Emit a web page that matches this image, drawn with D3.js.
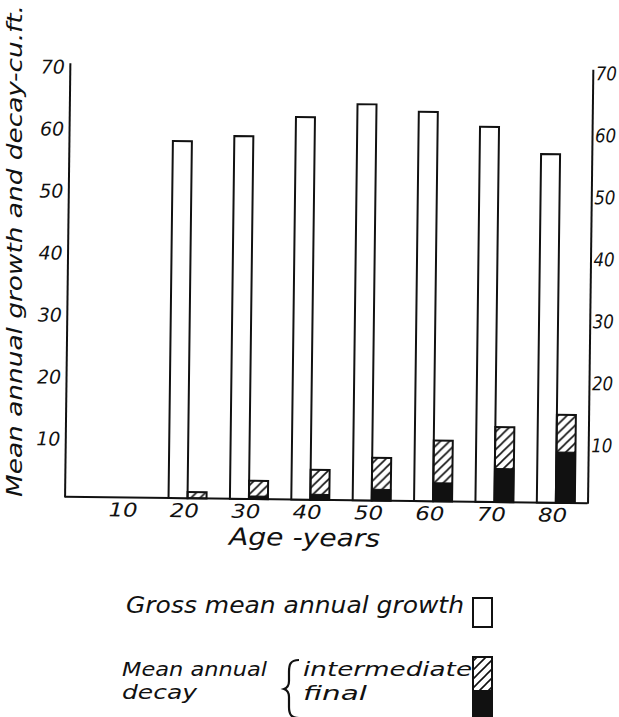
<!DOCTYPE html>
<html>
<head>
<meta charset="utf-8">
<script src="https://cdn.jsdelivr.net/npm/d3@7"></script>
<style>
  body { margin: 0; background: #fff; }
  text { font-family: "DejaVu Sans", sans-serif; font-style: italic; fill: #111; }
</style>
</head>
<body>
<div id="chart"></div>
<script>
// Data
const ages = [10, 20, 30, 40, 50, 60, 70, 80];
const growth = [null, 57.6, 58.5, 61.7, 63.9, 62.8, 60.5, 56.2];
const decayTotal = [null, 1.0, 2.95, 4.85, 6.9, 9.8, 12.1, 14.2];
const decayFinal = [null, 0, 0.5, 0.9, 1.8, 3.0, 5.4, 8.2];
const yTicks = [10, 20, 30, 40, 50, 60, 70];

const width = 619;
const height = 717;

const svg = d3.select("#chart")
    .append("svg")
    .attr("width", width)
    .attr("height", height);

// hatch pattern for intermediate decay
const defs = svg.append("defs");
defs.append("pattern")
    .attr("id", "hatch")
    .attr("patternUnits", "userSpaceOnUse")
    .attr("width", 9)
    .attr("height", 9)
    .append("path")
    .attr("d", "M-1,1 l2,-2 M0,9 l9,-9 M8,10 l2,-2")
    .attr("stroke", "#111")
    .attr("stroke-width", 1.6);

// Scales
const y = d3.scaleLinear().domain([0, 70]).range([500, 66]);
const x = d3.scalePoint().domain(ages).range([67, 590]).padding(0.76).align(0.66);
const barW = 19;

// the scanned drawing is tilted a little, rotate the plot to match
const plot = svg.append("g")
    .attr("transform", "rotate(0.7, 330, 300)");

const rows = ages.map((a, i) => ({
    age: a, growth: growth[i], total: decayTotal[i], fin: decayFinal[i]
}));

// Axes
const left = plot.append("g")
    .attr("transform", `translate(${x.range()[0]},0)`)
    .call(d3.axisLeft(y).tickValues(yTicks).tickSize(0).tickPadding(5));
const right = plot.append("g")
    .attr("transform", `translate(${x.range()[1]},0)`)
    .call(d3.axisRight(y).tickValues(yTicks).tickSize(0).tickPadding(3));

[left, right].forEach(g => {
    g.select(".domain").attr("stroke", "#111").attr("stroke-width", 2);
    g.selectAll("text")
        .attr("font-size", 19)
        .attr("dy", "0.55em")
        .attr("textLength", 24)
        .attr("lengthAdjust", "spacingAndGlyphs")
        .style("font-family", '"DejaVu Sans", sans-serif')
        .style("font-style", "italic");
});
right.selectAll("text").attr("textLength", 21);

// baseline
plot.append("line")
    .attr("x1", x.range()[0])
    .attr("x2", x.range()[1])
    .attr("y1", y(0))
    .attr("y2", y(0))
    .attr("stroke", "#111")
    .attr("stroke-width", 2);

// x tick labels
plot.selectAll(".xlab")
    .data(ages)
    .enter()
    .append("text")
    .attr("class", "xlab")
    .attr("x", d => x(d) - 3)
    .attr("y", y(0) + 19)
    .attr("text-anchor", "middle")
    .attr("font-size", 19)
    .attr("textLength", 29)
    .attr("lengthAdjust", "spacingAndGlyphs")
    .text(d => d);

plot.append("text")
    .attr("x", 232)
    .attr("y", 546)
    .attr("font-size", 24)
    .attr("textLength", 151)
    .attr("lengthAdjust", "spacingAndGlyphs")
    .text("Age -years");

const barRows = rows.filter(d => d.growth != null);

// growth bars
plot.selectAll(".growth")
    .data(barRows)
    .enter()
    .append("rect")
    .attr("class", "growth")
    .attr("x", d => x(d.age) - barW)
    .attr("y", d => y(d.growth))
    .attr("width", barW)
    .attr("height", d => y(0) - y(d.growth))
    .attr("fill", "#fff")
    .attr("stroke", "#111")
    .attr("stroke-width", 2);

// intermediate decay (hatched part on top of final)
plot.selectAll(".inter")
    .data(barRows)
    .enter()
    .append("rect")
    .attr("class", "inter")
    .attr("x", d => x(d.age))
    .attr("y", d => y(d.total))
    .attr("width", barW)
    .attr("height", d => y(0) - y(d.total))
    .attr("fill", "url(#hatch)")
    .attr("stroke", "#111")
    .attr("stroke-width", 2);

// final decay (solid)
plot.selectAll(".final")
    .data(barRows.filter(d => d.fin > 0))
    .enter()
    .append("rect")
    .attr("class", "final")
    .attr("x", d => x(d.age))
    .attr("y", d => y(d.fin))
    .attr("width", barW)
    .attr("height", d => y(0) - y(d.fin))
    .attr("fill", "#111")
    .attr("stroke", "#111")
    .attr("stroke-width", 1);

// y axis title
svg.append("text")
    .attr("transform", "translate(22,497) rotate(-90)")
    .attr("font-size", 22)
    .attr("textLength", 492)
    .attr("lengthAdjust", "spacingAndGlyphs")
    .text("Mean annual growth and decay-cu.ft.");

// Legend
const legend = svg.append("g");

legend.append("text")
    .attr("x", 126)
    .attr("y", 613)
    .attr("font-size", 23)
    .attr("textLength", 338)
    .attr("lengthAdjust", "spacingAndGlyphs")
    .text("Gross mean annual growth");

legend.append("rect")
    .attr("x", 473).attr("y", 598)
    .attr("width", barW).attr("height", 29)
    .attr("fill", "#fff")
    .attr("stroke", "#111")
    .attr("stroke-width", 2);

legend.append("text")
    .attr("x", 122).attr("y", 676)
    .attr("font-size", 20)
    .attr("textLength", 145)
    .attr("lengthAdjust", "spacingAndGlyphs")
    .text("Mean annual");

legend.append("text")
    .attr("x", 122).attr("y", 699)
    .attr("font-size", 20)
    .attr("textLength", 75)
    .attr("lengthAdjust", "spacingAndGlyphs")
    .text("decay");

// brace
legend.append("path")
    .attr("d", "M299,660 C290,660 289,665 289,672 L289,681 C289,686 287,688 284,689 C287,690 289,692 289,697 L289,707 C289,714 291,718 299,718")
    .attr("fill", "none")
    .attr("stroke", "#111")
    .attr("stroke-width", 2.2);

legend.append("text")
    .attr("x", 303).attr("y", 676)
    .attr("font-size", 20)
    .attr("textLength", 169)
    .attr("lengthAdjust", "spacingAndGlyphs")
    .text("intermediate");

legend.append("text")
    .attr("x", 303).attr("y", 700)
    .attr("font-size", 20)
    .attr("textLength", 64)
    .attr("lengthAdjust", "spacingAndGlyphs")
    .text("final");

legend.append("rect")
    .attr("x", 473).attr("y", 657)
    .attr("width", barW).attr("height", 70)
    .attr("fill", "url(#hatch)")
    .attr("stroke", "#111")
    .attr("stroke-width", 2);

legend.append("rect")
    .attr("x", 473).attr("y", 690)
    .attr("width", barW).attr("height", 37)
    .attr("fill", "#111");
</script>
</body>
</html>
